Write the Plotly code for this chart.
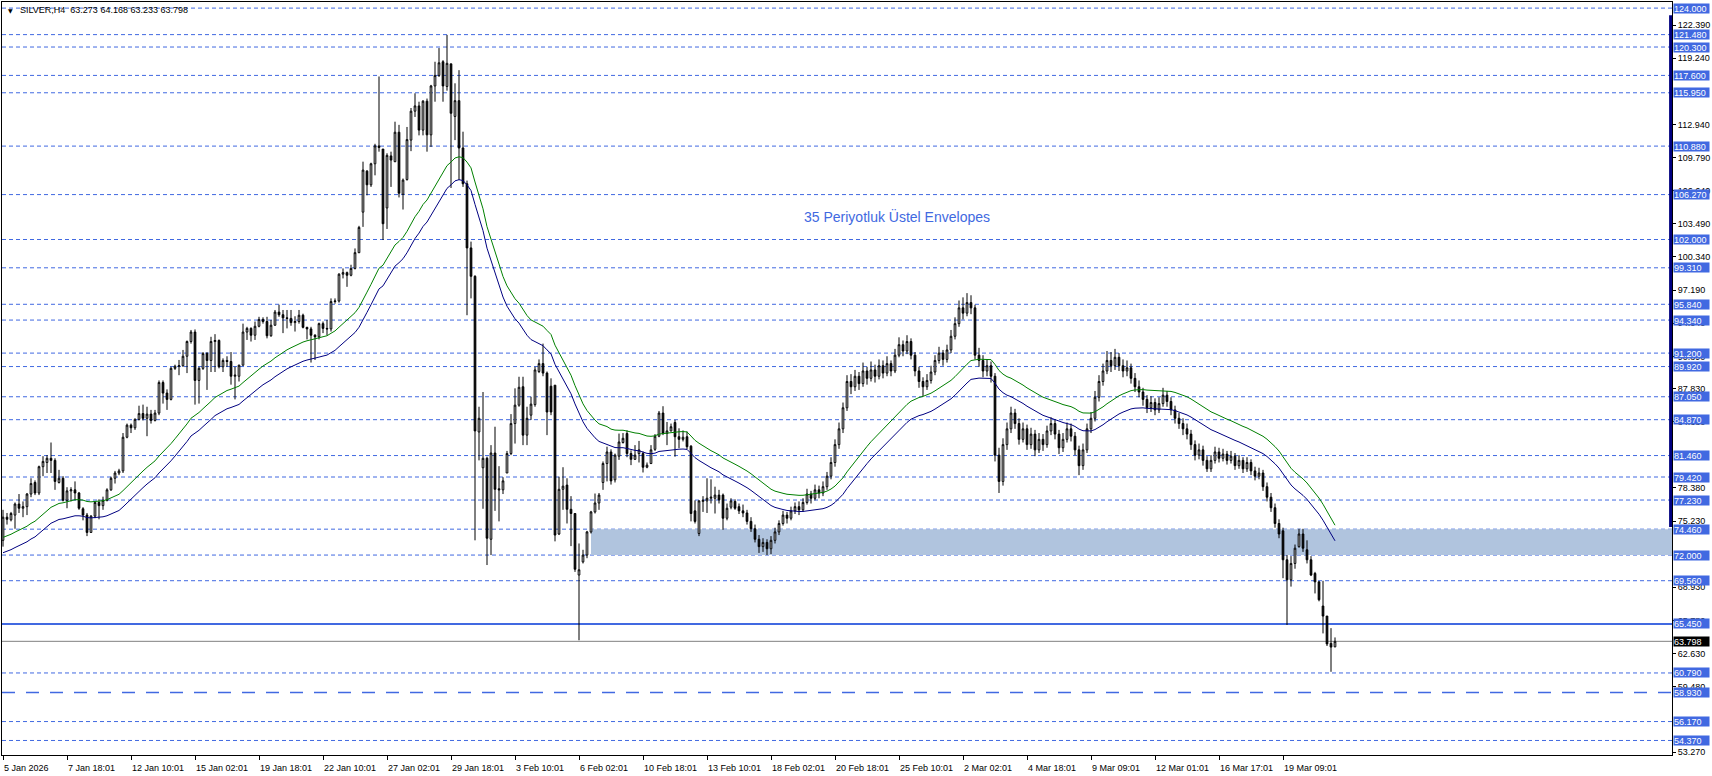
import plotly.graph_objects as go

# ---------------- DATA (SILVER H4 OHLC, bar index 0 = 5 Jan 2026) ----------------
opens_a = [73.4,75.6,75.35,75.8,76.85,76.45,76.6,77.8,78.9,77.9,80.4,80.8,81.2,81.0,78.9,79.3,77.2,78.1,78.2,77.9,
76.4,75.8,74.15,75.7,77.0,76.7,77.2,78.2,79.3,79.8,80.0,83.2,84.35,84.1,84.9,85.45,85.0,85.4,84.8,85.5,
88.4,87.4,86.8,89.75,89.95,90.0,90.9,92.3,93.2,88.6,89.75,91.15,90.5,92.3,92.4,89.9,90.5,90.4,89.0,89.0,
90.05,93.2,93.55,92.9,93.75,94.4,94.2,92.85,93.85,95.1,94.85,94.55,94.5,94.1,94.2,94.8,93.65,93.5,92.9,92.75,
94.0,93.55,93.5,96.1,96.15,98.7,98.85,98.6,99.25,100.75,104.6,108.5,107.2,109.2,110.9,110.6,105.0,109.95,109.4,112.2,
106.3,107.7,111.45,114.2,114.7,112.4,115.15,111.95,116.6,117.6,118.9,116.55,118.7,113.7,115.2,110.7,107.3,101.2,98.5,83.7,
80.3,81.2,73.5,81.7,78.3,78.2,79.8,81.65,84.5,86.25,88.0,83.4,85.3,86.3,89.45,90.2,89.3,88.05,88.15,74.0,
78.25,78.65,76.35,75.95,70.1,71.35,72.0,74.2,76.1,76.95,78.9,80.7,81.8,79.15,81.4,82.7,83.55,81.65,81.1,81.65,
81.65,80.35,80.7,82.05,83.3,85.5,83.55,83.8,84.6,83.25,83.0,83.25,82.35,76.2,74.05,77.1,77.15,77.4,77.4,77.7,
77.7,75.5,76.55,77.1,76.6]
highs_a = [76.3,76.0,76.1,77.0,77.8,77.1,77.9,79.3,79.1,80.5,81.4,81.5,82.7,81.2,80.1,79.5,78.45,78.45,79.0,78.0,
76.55,76.0,75.8,77.1,77.3,77.55,78.35,79.45,80.0,80.2,83.6,84.5,84.5,85.0,86.2,86.3,86.1,85.8,85.8,88.6,
88.6,87.75,89.9,90.1,90.55,91.5,92.4,93.4,93.45,89.9,91.3,91.3,92.75,93.0,92.5,90.7,90.9,91.3,89.9,90.1,
94.0,93.7,93.65,94.2,94.65,94.6,94.65,94.35,95.3,95.8,95.3,95.3,95.3,94.7,95.3,94.95,93.7,93.7,93.0,94.1,
94.2,94.35,96.4,96.4,98.8,99.25,98.95,99.6,101.15,103.3,109.4,108.6,109.3,111.1,117.5,110.6,110.2,110.35,113.2,112.9,
107.8,112.7,114.5,115.9,115.1,115.25,115.4,116.7,118.9,120.2,119.05,121.45,118.7,116.85,118.1,112.25,107.6,101.8,98.6,86.1,
87.5,81.35,82.45,84.2,80.45,79.4,81.9,85.4,87.85,88.95,88.95,86.1,87.05,89.9,90.6,92.1,89.45,88.8,88.15,79.45,
80.35,79.3,77.6,75.95,73.1,72.5,74.3,76.2,77.85,77.9,80.9,82.3,82.05,81.65,83.55,83.6,83.85,81.95,82.45,82.85,
81.85,80.8,82.45,83.5,85.7,86.15,84.65,84.5,84.85,84.05,83.85,83.75,82.45,77.2,77.2,77.6,79.3,79.2,78.5,78.2,
77.85,76.9,77.4,77.3,76.9]
lows_a = [72.8,74.9,75.2,74.5,76.0,75.6,75.8,77.5,77.7,77.7,79.5,79.8,79.8,78.2,78.8,77.1,76.45,77.1,77.2,76.3,
75.3,73.8,74.1,75.5,75.4,76.3,77.1,78.1,78.8,79.6,79.8,83.1,83.6,83.9,84.8,84.8,83.3,84.5,84.7,85.3,
86.4,85.8,86.7,89.6,89.1,89.9,89.3,92.1,86.3,86.4,89.6,87.7,89.4,89.4,89.75,89.4,89.9,88.2,86.8,88.5,
90.0,92.45,92.3,92.45,93.65,94.0,92.6,92.75,93.8,94.65,93.1,93.55,93.8,93.25,94.0,93.55,92.5,90.3,90.55,92.5,
93.1,92.9,93.25,95.9,96.0,98.3,97.5,98.5,99.15,100.7,103.2,106.2,107.0,108.1,110.35,101.95,103.0,107.0,109.35,106.0,
104.85,107.6,110.4,113.65,111.9,111.9,110.35,110.8,115.1,117.45,115.1,116.15,106.9,111.45,107.65,107.0,94.8,96.4,73.4,81.0,
76.4,71.05,72.0,76.2,75.2,77.8,79.8,81.5,82.6,86.1,82.45,82.45,84.85,86.1,89.3,89.0,83.4,85.3,73.3,73.9,
76.3,75.0,72.85,70.4,63.9,71.2,71.7,74.05,75.95,76.3,78.2,79.0,78.7,78.9,81.05,82.6,81.3,80.55,81.05,80.8,
79.85,80.25,80.65,81.9,83.2,83.4,82.45,83.75,81.35,82.15,82.8,82.05,75.2,75.0,73.8,76.1,76.0,76.9,75.95,76.9,
74.4,75.3,76.35,76.3,75.9]
closes_a = [75.6,75.4,75.95,76.85,76.45,76.6,77.8,78.8,77.9,80.4,80.9,81.2,81.0,79.0,79.3,77.2,78.1,78.2,77.9,76.45,
75.8,74.15,75.7,77.0,76.7,77.2,78.2,79.3,79.8,80.0,83.2,84.35,84.1,84.9,85.45,85.0,85.4,84.8,85.5,88.4,
87.4,86.8,89.75,89.95,90.0,90.9,92.3,93.2,88.6,89.75,91.15,90.5,92.3,92.4,89.9,90.5,90.4,89.0,89.1,90.05,
93.2,93.55,92.9,93.75,94.4,94.2,92.85,93.85,95.1,94.85,94.55,94.5,94.1,94.2,94.8,93.65,93.5,92.9,92.75,94.0,
93.55,93.5,96.1,96.15,98.7,98.85,98.6,99.25,100.75,103.15,108.6,107.2,109.2,110.9,110.75,103.5,110.0,109.55,112.2,106.4,
107.65,111.5,114.2,114.7,112.4,115.15,111.95,116.6,117.6,118.8,116.6,118.75,114.0,115.2,110.7,107.3,101.2,98.5,83.8,85.0,
81.2,73.6,81.7,78.25,78.2,79.05,81.65,84.5,86.25,87.95,83.4,85.0,86.35,89.6,90.2,89.3,85.6,85.6,73.9,78.25,
78.55,76.35,75.95,70.65,70.6,72.0,74.2,76.1,76.95,77.7,80.7,81.8,79.05,81.5,82.75,83.1,81.65,81.1,81.5,82.0,
80.35,80.55,82.0,83.3,85.5,83.55,83.8,84.2,83.25,83.0,83.2,82.3,75.95,75.2,77.15,77.2,77.4,77.5,77.7,77.25,
75.5,76.45,77.15,76.45,76.2]

# bars 185-319
opens_m = [76.2,76.0,75.2,74.5,73.5,72.8,73.2,72.6,73.4,74.2,75.0,75.8,75.5,76.2,76.6,76.3,77.0,77.8,77.4,78.2,
77.9,78.5,79.5,80.8,82.5,84.0,86.0,88.5,88.0,89.0,88.3,89.5,88.8,89.6,89.0,90.0,89.3,90.2,89.5,91.0,
92.0,91.4,92.3,91.0,89.5,88.5,88.0,88.6,89.4,90.5,91.2,90.6,91.5,92.8,94.0,95.5,95.0,96.0,95.5,91.0,
90.5,89.5,90.0,89.0,81.5,79.0,82.5,84.0,85.5,84.5,83.0,84.0,82.5,83.5,82.0,83.0,82.5,83.8,84.5,83.5,
82.2,83.0,84.0,83.3,82.0,80.5,82.0,84.0,85.0,87.0,88.5,89.5,90.5,90.0,90.8,90.0,89.5,89.8,88.8,88.0,
87.5,86.8,86.0,86.5,85.8,86.4,87.2,86.6,85.8,85.0,84.5,84.0,83.5,82.5,81.5,82.0,81.0,80.2,81.0,81.8,
81.2,81.6,81.0,81.4,80.5,81.0,80.2,80.8,80.0,79.5,79.8,78.5,77.5,76.5,75.0]
highs_m = [76.8,76.3,75.6,74.9,73.9,73.6,73.5,73.8,74.6,75.3,76.2,76.1,76.6,77.0,77.1,77.4,78.3,78.1,78.7,78.6,
79.0,79.9,81.3,83.0,84.6,86.5,89.1,89.2,89.6,89.4,90.3,89.9,90.4,90.1,90.6,90.5,90.9,90.5,91.6,92.7,
92.4,92.9,92.6,91.3,89.9,88.9,89.2,90.0,91.0,91.8,91.5,92.0,93.4,94.6,96.2,96.5,96.9,96.7,95.8,91.7,
91.0,90.6,90.4,89.3,82.2,83.1,84.6,86.1,85.9,85.0,84.6,84.4,84.1,83.9,83.6,83.5,84.3,85.1,84.9,83.9,
83.6,84.6,84.5,83.7,82.4,82.6,84.5,85.6,87.6,89.1,90.2,91.4,91.3,91.6,91.2,90.6,90.5,90.2,89.3,88.6,
87.9,87.2,87.1,86.9,87.0,87.9,87.6,87.0,86.2,85.5,85.0,84.5,83.9,82.9,82.6,82.4,81.4,81.5,82.3,82.2,
82.1,81.9,81.9,81.7,81.5,81.3,81.3,81.1,80.4,80.3,80.1,78.9,77.9,76.9,75.4]
lows_m = [75.6,74.9,74.2,73.2,72.2,72.3,72.0,72.1,73.1,73.9,74.8,75.0,75.3,75.9,75.8,76.1,76.8,76.9,77.2,77.4,
77.6,78.2,79.2,80.4,82.1,83.6,85.7,87.3,87.6,87.7,88.0,88.2,88.5,88.4,88.7,88.8,89.0,89.0,89.3,90.8,
90.9,91.1,90.6,89.0,87.9,87.1,87.7,88.3,89.1,90.2,90.0,90.3,91.2,92.5,93.7,94.4,94.7,94.9,90.6,89.9,
88.9,89.0,88.4,80.9,77.9,78.6,82.0,83.6,84.0,82.5,82.7,82.0,82.1,81.4,81.7,81.9,82.2,83.4,83.0,81.6,
81.8,82.7,82.8,81.5,79.6,80.1,81.7,83.6,84.7,86.6,88.1,89.2,89.4,89.6,89.5,88.9,89.0,88.3,87.5,87.0,
86.2,85.5,85.6,85.3,85.5,86.1,86.1,85.3,84.5,84.0,83.4,83.0,82.0,81.0,81.1,80.5,79.9,79.9,80.7,80.8,
80.9,80.6,80.7,80.1,80.2,79.8,79.9,79.6,79.1,79.2,78.1,77.1,76.1,74.6,73.6]
closes_m = [76.0,75.2,74.5,73.5,72.8,73.2,72.6,73.4,74.2,75.0,75.8,75.5,76.2,76.6,76.3,77.0,77.8,77.4,78.2,77.9,
78.5,79.5,80.8,82.5,84.0,86.0,88.5,88.0,89.0,88.3,89.5,88.8,89.6,89.0,90.0,89.3,90.2,89.5,91.0,92.0,
91.4,92.3,91.0,89.5,88.5,88.0,88.6,89.4,90.5,91.2,90.6,91.5,92.8,94.0,95.5,95.0,96.0,95.5,91.0,90.5,
89.5,90.0,89.0,81.5,79.0,82.5,84.0,85.5,84.5,83.0,84.0,82.5,83.5,82.0,83.0,82.5,83.8,84.5,83.5,82.2,
83.0,84.0,83.3,82.0,80.5,82.0,84.0,85.0,87.0,88.5,89.5,90.5,90.0,90.8,90.0,89.5,89.8,88.8,88.0,87.5,
86.8,86.0,86.5,85.8,86.4,87.2,86.6,85.8,85.0,84.5,84.0,83.5,82.5,81.5,82.0,81.0,80.2,81.0,81.8,81.2,
81.6,81.0,81.4,80.5,81.0,80.2,80.8,80.0,79.5,79.8,78.5,77.5,76.5,75.0,74.0]

# bars 320-333
opens_b = [74.3,71.55,69.65,71.2,72.8,74.0,72.5,71.55,70.25,69.45,67.15,66.2,63.6,63.273]
highs_b = [74.6,72.0,71.9,73.0,74.5,74.5,73.4,71.9,70.4,69.5,69.55,66.2,65.05,64.168]
lows_b = [69.8,65.35,69.0,70.7,72.7,72.3,71.2,70.0,68.35,67.6,64.55,63.35,60.9,63.233]
closes_b = [71.55,69.65,71.2,72.65,74.0,72.65,71.55,70.1,69.45,67.75,66.2,63.55,63.25,63.798]

x_tick_labels = ["5 Jan 2026", "7 Jan 18:01", "12 Jan 10:01", "15 Jan 02:01", "19 Jan 18:01",
                 "22 Jan 10:01", "27 Jan 02:01", "29 Jan 18:01", "3 Feb 10:01", "6 Feb 02:01",
                 "10 Feb 18:01", "13 Feb 10:01", "18 Feb 02:01", "20 Feb 18:01", "25 Feb 10:01",
                 "2 Mar 02:01", "4 Mar 18:01", "9 Mar 09:01", "12 Mar 01:01", "16 Mar 17:01",
                 "19 Mar 09:01"]
bars_per_label = 16

axis_ticks = [122.39, 119.24, 112.94, 109.79, 106.64, 103.49, 100.34, 97.19, 94.04, 90.89,
              87.83, 84.68, 78.38, 75.23, 68.93, 65.78, 62.63, 59.48, 53.27]

dashed_levels = [124.0, 121.48, 120.3, 117.6, 115.95, 110.88, 106.27, 102.0, 99.31, 95.84, 94.34,
                 91.2, 89.92, 87.05, 84.87, 81.46, 79.42, 77.23, 74.46, 72.0, 69.56, 60.79, 56.17, 54.37]
solid_level = 65.45
longdash_level = 58.93
bid_price = 63.798
zone_low, zone_high, zone_start_bar = 72.0, 74.46, 147
marker_top, marker_bottom = 123.33, 74.67
label_levels = [124.0, 121.48, 120.3, 117.6, 115.95, 110.88, 106.27, 102.0, 99.31, 95.84, 94.34,
                91.2, 89.92, 87.05, 84.87, 81.46, 79.42, 77.23, 74.46, 72.0, 69.56, 65.45, 60.79,
                58.93, 56.17, 54.37]

env_period = 35
env_deviation = 0.01
ema_seed = 72.95

header = "SILVER,H4  63.273 64.168 63.233 63.798"
env_title = "35 Periyotluk Üstel Envelopes"
env_title_pos = (223.6, 104.2)

# ---------------- BUILD ----------------
opens = opens_a + opens_m + opens_b
highs = highs_a + highs_m + highs_b
lows = lows_a + lows_m + lows_b
closes = closes_a + closes_m + closes_b
n = len(closes)
xs = list(range(n))

# exponential moving average envelopes (indicator computed from the closes)
alpha = 2.0 / (env_period + 1)
ema = []
e = ema_seed
for i, c in enumerate(closes):
    if i > 0:
        e = e + alpha * (c - e)
    ema.append(e)
upper = [v * (1 + env_deviation) for v in ema]
lower = [v * (1 - env_deviation) for v in ema]

BLUE = "#4169E1"
FONT = "Liberation Sans"
x_max = 417.25
y_min, y_max = 52.99, 124.58

fig = go.Figure()
fig.add_trace(go.Scatter(x=xs, y=upper, mode="lines", line=dict(color="#008000", width=1),
                         hoverinfo="skip", showlegend=False))
fig.add_trace(go.Scatter(x=xs, y=lower, mode="lines", line=dict(color="#000080", width=1),
                         hoverinfo="skip", showlegend=False))
fig.add_trace(go.Candlestick(
    x=xs, open=opens, high=highs, low=lows, close=closes,
    increasing=dict(line=dict(color="black", width=1), fillcolor="white"),
    decreasing=dict(line=dict(color="black", width=1), fillcolor="black"),
    whiskerwidth=0, hoverinfo="skip", showlegend=False))

shapes = []
for lv in dashed_levels:
    shapes.append(dict(type="line", xref="paper", yref="y", x0=0, x1=1, y0=lv, y1=lv,
                       line=dict(color=BLUE, width=1, dash="4px,3px"), layer="below"))
shapes.append(dict(type="rect", xref="x", yref="y", x0=zone_start_bar, x1=x_max, y0=zone_low, y1=zone_high,
                   fillcolor="#B0C4DE", line=dict(width=0), layer="below"))
shapes.append(dict(type="line", xref="paper", yref="y", x0=0, x1=1, y0=solid_level, y1=solid_level,
                   line=dict(color=BLUE, width=2), layer="below"))
shapes.append(dict(type="line", xref="paper", yref="y", x0=0, x1=1, y0=longdash_level, y1=longdash_level,
                   line=dict(color=BLUE, width=1.5, dash="13px,11px"), layer="below"))
shapes.append(dict(type="line", xref="paper", yref="y", x0=0, x1=1, y0=bid_price, y1=bid_price,
                   line=dict(color="#808080", width=1), layer="below"))
shapes.append(dict(type="line", xref="x", yref="y", x0=x_max - 0.35, x1=x_max - 0.35,
                   y0=marker_bottom, y1=marker_top, line=dict(color="#000080", width=3)))

annotations = []
for lv in label_levels:
    annotations.append(dict(x=1, xref="paper", y=lv, yref="y", xanchor="left", yanchor="middle",
                            xshift=1, text=f"{lv:.3f}", showarrow=False, bgcolor=BLUE,
                            font=dict(color="white", size=9, family=FONT), width=35, height=9,
                            align="left", borderpad=0))
annotations.append(dict(x=1, xref="paper", y=bid_price, yref="y", xanchor="left", yanchor="middle",
                        xshift=1, text=f"{bid_price:.3f}", showarrow=False, bgcolor="black",
                        font=dict(color="white", size=9, family=FONT), width=35, height=9,
                        align="left", borderpad=0))
tick_bars = [i * bars_per_label for i in range(len(x_tick_labels))]
for b, t in zip(tick_bars, x_tick_labels):
    annotations.append(dict(x=b, xref="x", y=0, yref="paper", xanchor="left", yanchor="top",
                            xshift=-1, yshift=-6, text=t, showarrow=False,
                            font=dict(color="black", size=9, family=FONT)))
annotations.append(dict(x=0, xref="paper", y=1, yref="paper", xanchor="left", yanchor="top",
                        xshift=4, yshift=-3, text="▼", showarrow=False,
                        font=dict(color="black", size=6, family="DejaVu Sans")))
annotations.append(dict(x=0, xref="paper", y=1, yref="paper", xanchor="left", yanchor="top",
                        xshift=16, yshift=-1, text=header, showarrow=False,
                        font=dict(color="black", size=9, family=FONT)))
annotations.append(dict(x=env_title_pos[0], xref="x", y=env_title_pos[1], yref="y",
                        text=env_title, showarrow=False,
                        font=dict(color=BLUE, size=14, family=FONT)))

fig.update_layout(
    width=1712, height=776, margin=dict(l=2, r=40, t=2, b=21),
    paper_bgcolor="white", plot_bgcolor="white", showlegend=False,
    boxgap=0.4,
    shapes=shapes, annotations=annotations,
    xaxis=dict(range=[-0.25, x_max], rangeslider=dict(visible=False), showgrid=False, zeroline=False,
               tickvals=tick_bars, ticktext=[""] * len(tick_bars), ticks="outside", ticklen=4,
               tickcolor="black", showline=True, linecolor="black", linewidth=1, mirror=True,
               fixedrange=True),
    yaxis=dict(range=[y_min, y_max], side="right", showgrid=False, zeroline=False,
               tickvals=axis_ticks, ticktext=[f"{v:.3f}" for v in axis_ticks], ticks="outside",
               ticklen=3, tickcolor="black", tickfont=dict(family=FONT, size=9, color="black"),
               showline=True, linecolor="black", linewidth=1, mirror=True, fixedrange=True),
)

fig.write_html("out.html", config={"displayModeBar": False},
               post_script="document.body.style.margin='0';document.body.style.overflow='hidden';")
